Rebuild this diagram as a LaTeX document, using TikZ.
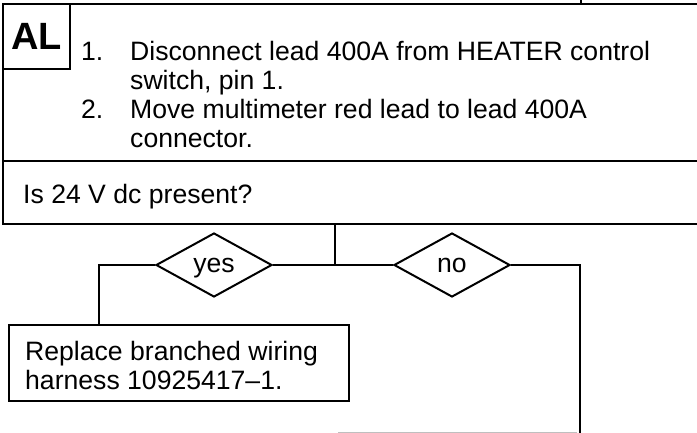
\documentclass[tikz,border=0pt]{standalone}
\usepackage{fontspec}
\setmainfont{Liberation Sans}
\usetikzlibrary{shapes.geometric}
\begin{document}
\begin{tikzpicture}[x=1pt,y=-1pt,
  boxline/.style={draw=black,line width=2.4pt,rectangle,inner sep=0pt},
  conn/.style={draw=black,line width=2pt},
  txt/.style={anchor=base west,inner sep=0pt,font=\fontsize{26.6}{29}\selectfont},
  dia/.style={diamond,draw=black,line width=2pt,minimum width=116pt,minimum height=64pt,inner sep=0pt,text depth=0pt,font=\fontsize{26.6}{29}\selectfont}]
\useasboundingbox (0,0) rectangle (697,433);
\clip (0,0) rectangle (697,433);
% boxes
\node (instr) [boxline, anchor=north west, minimum width=740pt, minimum height=157pt] at (2,3) {};
\node (q) [boxline, anchor=north west, minimum width=740pt, minimum height=63pt] at (2,160) {};
\node (al) [boxline, anchor=north west, minimum width=67pt, minimum height=65pt, font=\fontsize{38}{38}\selectfont\bfseries] at (2,3) {AL};
% instruction text
\node (n1) [txt] at (81,61) {1.};
\node (l1) [txt] at (130,61) {Disconnect lead 400A from HEATER control};
\node (l2) [txt] at (130,90) {switch, pin 1.};
\node (n2) [txt] at (81,119) {2.};
\node (l3) [txt] at (130,119) {Move multimeter red lead to lead 400A};
\node (l4) [txt] at (130,148) {connector.};
\node (qt) [txt] at (23,204) {Is 24 V dc present?};
% decisions
\node (yes) [dia] at (214,265) {yes};
\node (no) [dia] at (452,265) {no};
% action box
\node (rep) [boxline, anchor=north west, minimum width=340pt, minimum height=76pt] at (8,324) {};
\node (r1) [txt] at (25,360) {Replace branched wiring};
\node (r2) [txt] at (25,389) {harness 10925417–1.};
% connectors
\coordinate (j) at (335,265);
\draw[conn] (q.south -| j) -- (j);
\draw[conn] (yes.east) -- (no.west);
\coordinate (yl) at (99,265);
\draw[conn] (yes.west) -- (yl) -- (yl |- rep.north);
\coordinate (nr) at (580,265);
\coordinate (nb) at (580,445);
\draw[conn] (no.east) -- (nr) -- (nb);
\coordinate (tin) at (581,-5);
\draw[conn] (tin) -- (tin |- instr.north);
\coordinate (g1) at (338,432.5);
\coordinate (g2) at (577,432.5);
\draw[gray!50, line width=1pt] (g1) -- (g2);
\end{tikzpicture}
\end{document}
